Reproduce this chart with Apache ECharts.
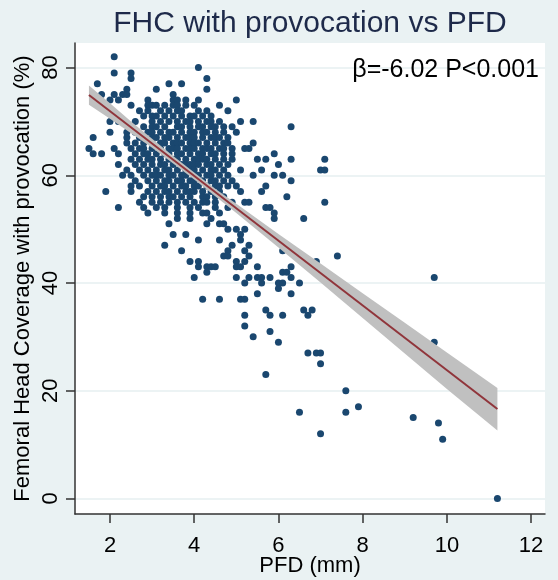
<!DOCTYPE html>
<html>
<head>
<meta charset="utf-8">
<script src="https://cdn.jsdelivr.net/npm/echarts@6/dist/echarts.min.js"></script>
<style>
html,body{margin:0;padding:0;background:#eaf2f3;}
#chart{width:558px;height:580px;}
</style>
</head>
<body>
<div id="chart"></div>
<script>
// FHC with provocation (%) levels and the PFD (mm) values observed at each level
const fhcLevels = [82,80,79,78,77,76,75,74,73,72,71,70,69,68,67,66,65,64,63,62,61,60,59,58,57,56,55,54,53,52,51,50,49,48,47,46,45,44,43,42,41,40,39,38,37,35,34,32,31,30,29,27,25,23,20,17,16,15,14,12,11,0];
const pfdByLevel = [
  [2.1],
  [4.1],
  [2.1,2.5],
  [2.5,4.3],
  [1.7,3.4,3.7],
  [2.4,3.1,4.3],
  [1.8,2.1,2.3,2.4,3.5],
  [2.0,2.2,2.9,3.5,3.6,3.8,4.1,5.0],
  [2.5,2.9,3.0,3.1,3.3,3.5,3.6,3.8,4.0,4.6],
  [2.7,2.9,3.2,3.4,3.6,3.7,4.1,4.3,4.8],
  [2.8,3.0,3.1,3.3,3.5,3.7,3.9,4.0,4.2,4.4],
  [2.0,2.2,2.6,3.0,3.2,3.4,3.6,3.8,3.9,4.1,4.3,4.4,4.6,5.1,5.4],
  [2.8,3.0,3.1,3.3,3.6,3.7,3.9,4.1,4.2,4.4,4.5,4.7,4.9,6.3],
  [2.0,2.4,2.6,2.9,3.0,3.2,3.4,3.5,3.7,3.9,4.0,4.2,4.3,4.5,4.7,5.0],
  [1.6,2.4,2.7,3.0,3.1,3.3,3.4,3.6,3.8,3.9,4.0,4.2,4.4,4.5,4.6,4.8],
  [2.4,2.6,2.8,3.0,3.2,3.3,3.5,3.6,3.7,3.9,4.0,4.1,4.3,4.5,4.7,4.8,5.4],
  [1.5,2.1,2.5,2.7,2.8,3.0,3.2,3.4,3.5,3.6,3.8,3.9,4.0,4.2,4.3,4.4,4.6,4.7,4.9,5.2,5.3],
  [1.6,1.8,2.2,2.6,2.8,2.9,3.1,3.3,3.4,3.6,3.7,3.9,4.1,4.2,4.4,4.5,4.7,4.9,5.9],
  [2.5,2.7,2.9,3.0,3.2,3.4,3.5,3.6,3.8,4.0,4.1,4.2,4.3,4.5,4.7,4.9,5.5,5.7,6.3,7.1],
  [2.2,2.6,2.8,3.0,3.2,3.3,3.5,3.7,3.8,3.9,4.0,4.1,4.3,4.4,4.6,4.8,6.0],
  [2.4,2.7,2.9,3.1,3.3,3.4,3.6,3.8,3.9,4.0,4.2,4.4,4.5,4.7,5.1,5.6,7.0,7.1],
  [2.3,2.5,2.8,3.0,3.1,3.2,3.4,3.5,3.7,3.8,4.0,4.1,4.3,4.4,4.6,4.8,5.4,5.9,6.1],
  [2.6,2.9,3.1,3.3,3.4,3.6,3.7,3.9,4.0,4.2,4.4,4.5,4.7,4.9,6.3],
  [2.5,2.7,3.0,3.2,3.3,3.5,3.7,3.8,4.0,4.1,4.3,4.5,4.6,4.8,5.0,5.7],
  [1.9,2.5,2.9,3.1,3.3,3.4,3.6,3.8,3.9,4.0,4.2,4.4,4.6,5.1,5.6],
  [2.8,3.0,3.2,3.4,3.5,3.7,3.9,4.2,4.3,4.5,4.7,6.2],
  [2.7,3.0,3.2,3.4,3.6,3.8,4.0,4.2,4.3,4.5,4.9,5.2,5.3,7.1],
  [2.2,2.8,3.1,3.3,3.6,3.9,4.1,4.5,4.8,5.7,5.8],
  [2.9,3.3,3.6,3.9,4.2,4.3,4.6,5.9],
  [3.6,3.9,4.4,5.9,6.6],
  [3.4,4.3,4.6,4.7],
  [4.8,5.0,5.2],
  [3.5,3.8,5.1],
  [4.1,4.6,5.1],
  [3.3,4.9,5.3],
  [3.7,4.8,5.2,6.1],
  [4.7,4.8,5.3,7.4],
  [3.9,4.1,5.0,5.2,6.9],
  [4.1,4.3,4.4,4.5,5.0,5.1,5.5,6.3],
  [4.3,6.1,6.2],
  [4.0,5.0,5.3,5.5,5.6,5.8,6.3,9.7],
  [5.2,5.6,6.0,6.1,6.5],
  [6.0],
  [5.5,6.3],
  [4.2,4.6,5.1,5.2],
  [5.7,6.6,6.8],
  [5.2,5.8,6.1,6.7],
  [5.2],
  [5.8],
  [5.4],
  [6.0,9.7],
  [6.7,6.9,7.0],
  [7.0],
  [5.7],
  [7.6],
  [7.9],
  [6.5,7.6],
  [9.2],
  [9.8],
  [7.0],
  [9.9],
  [11.2]
];

// Linear fit and its 95% confidence band
const fitX = [1.5, 11.2];
const fitY = [74.9, 16.6];
const bandX    = [1.5, 2, 2.5, 3, 3.5, 4, 4.5, 5, 6, 7, 8, 9, 10, 11.2];
const bandLow  = [73.1, 70.5, 67.8, 65.1, 62.2, 59.2, 56.1, 53.0, 46.6, 40.1, 33.5, 26.9, 20.3, 12.6];
const bandHigh = [76.7, 73.4, 70.0, 66.8, 63.6, 60.5, 57.5, 54.7, 49.1, 43.6, 38.1, 32.6, 27.1, 20.5];

const xTicks = [2, 4, 6, 8, 10, 12];
const yTicks = [0, 20, 40, 60, 80];

const points = [];
fhcLevels.forEach((y, i) => pfdByLevel[i].forEach(x => points.push([x, y])));
const fitData = fitX.map((x, i) => [x, fitY[i]]);

const FONT = "'Liberation Sans', Arial, sans-serif";
const chart = echarts.init(document.getElementById('chart'), null, {renderer: 'canvas'});
chart.setOption({
  backgroundColor: '#eaf2f3',
  animation: false,
  title: [
    {text: 'FHC with provocation vs PFD', left: 305, textAlign: 'center', top: 4,
     textStyle: {fontFamily: FONT, fontSize: 30, fontWeight: 'normal', color: '#1e2a4a'}},
    {text: 'β=-6.02 P<0.001', right: 14, top: 53,
     textStyle: {fontFamily: FONT, fontSize: 25, fontWeight: 'normal', color: '#000'}}
  ],
  grid: {left: 75, right: 13, top: 43, bottom: 66, containLabel: false, outerBoundsMode: 'none',
         show: true, backgroundColor: '#ffffff', borderWidth: 0},
  xAxis: {
    type: 'value', min: 1.169, max: 12.33,
    name: 'PFD (mm)', nameLocation: 'middle', nameGap: 41, nameMoveOverlap: false,
    nameTextStyle: {fontFamily: FONT, fontSize: 22, color: '#000'},
    axisLine: {show: true, onZero: false, lineStyle: {color: '#333', width: 1.5}},
    axisTick: {show: true, length: 9, customValues: xTicks, lineStyle: {color: '#333', width: 1.5}},
    axisLabel: {customValues: xTicks, margin: 21, fontFamily: FONT, fontSize: 22, color: '#000'},
    splitLine: {show: false}
  },
  yAxis: {
    type: 'value', min: -2.9, max: 84.57,
    name: 'Femoral Head Coverage with provocation (%)', nameLocation: 'middle', nameGap: 41, nameMoveOverlap: false,
    nameTextStyle: {fontFamily: FONT, fontSize: 22, color: '#000'},
    axisLine: {show: true, onZero: false, lineStyle: {color: '#333', width: 1.5}},
    axisTick: {show: true, length: 9, customValues: yTicks, lineStyle: {color: '#333', width: 1.5}},
    axisLabel: {customValues: yTicks, rotate: 90, margin: 13, fontFamily: FONT, fontSize: 22, color: '#000'},
    splitLine: {show: true, lineStyle: {color: '#e6eff1', width: 1.5}}
  },
  series: [
    {type: 'scatter', data: points, symbol: 'circle', symbolSize: 7,
     itemStyle: {color: '#1a476f', opacity: 1}, z: 2},
    {type: 'custom', z: 3, data: [0], silent: true,
     renderItem: function (params, api) {
       const pts = [];
       bandX.forEach((x, i) => pts.push(api.coord([x, bandHigh[i]])));
       for (let i = bandX.length - 1; i >= 0; i--) pts.push(api.coord([bandX[i], bandLow[i]]));
       return {type: 'polygon', shape: {points: pts}, style: {fill: '#c0c0c0'}};
     }},
    {type: 'line', data: fitData, symbol: 'none', z: 4,
     lineStyle: {color: '#90353b', width: 2}}
  ]
});
</script>
</body>
</html>
